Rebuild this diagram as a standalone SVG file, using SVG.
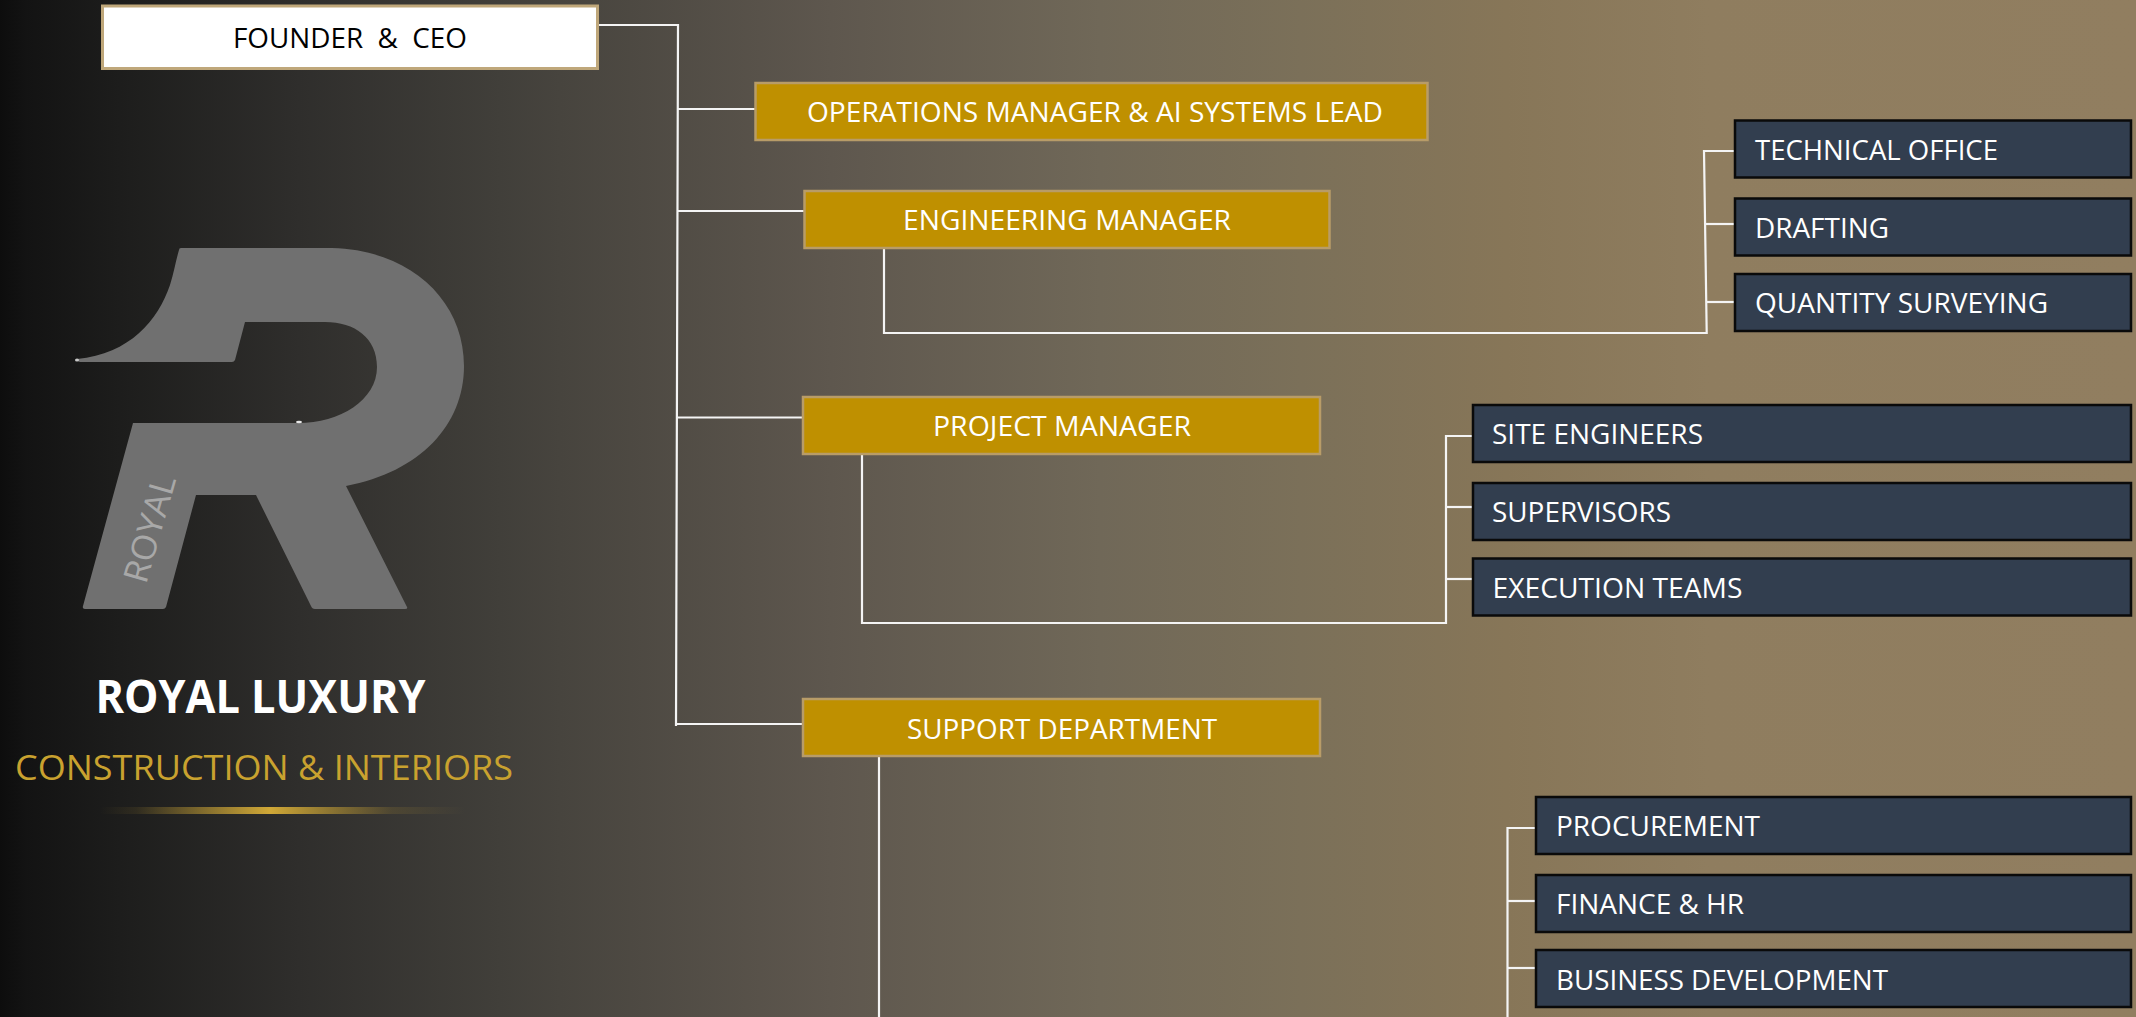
<svg xmlns="http://www.w3.org/2000/svg" width="2136" height="1017" viewBox="0 0 2136 1017">
<style>
text{font-family:"Open Sans","Noto Sans","Liberation Sans",sans-serif;white-space:pre}
.t{font-size:27px;fill:#fff}
.gold rect{fill:#bf9000;stroke:#b89c68;stroke-width:2.5}
.navy rect{fill:#323e4f;stroke:#0a0a0a;stroke-width:2.5}
#connectors path{fill:none;stroke:#f4f4f4;stroke-width:2.2}
</style>
<defs>
<linearGradient id="bg" x1="0" y1="0" x2="1" y2="0">
<stop offset="0" stop-color="#0d0d0d"/><stop offset="0.012" stop-color="#131313"/><stop offset="0.056" stop-color="#1d1d1c"/><stop offset="0.14" stop-color="#2f2e2c"/><stop offset="0.234" stop-color="#413f3a"/><stop offset="0.262" stop-color="#47443e"/><stop offset="0.389" stop-color="#5e574e"/><stop offset="0.515" stop-color="#706858"/><stop offset="0.609" stop-color="#7b7059"/><stop offset="0.705" stop-color="#877658"/><stop offset="0.8" stop-color="#8f7d5f"/><stop offset="1" stop-color="#917e60"/>
</linearGradient>
<linearGradient id="bar" gradientUnits="userSpaceOnUse" x1="100" y1="0" x2="465" y2="0">
<stop offset="0" stop-color="#c9a233" stop-opacity="0"/><stop offset="0.1" stop-color="#c9a233" stop-opacity=".1"/><stop offset="0.466" stop-color="#d0a837"/><stop offset="0.8" stop-color="#c9a233" stop-opacity=".15"/><stop offset="1" stop-color="#c9a233" stop-opacity="0"/>
</linearGradient>
</defs>
<rect id="background" width="2136" height="1017" fill="url(#bg)"/>
<g id="logo">
<path fill="#707070" d="M181 248 L332 248 C410 250 464 300 464 366 C464 425 420 472 346 486 L407 607 Q408 609 405 609 L315 609 Q312 609 311 606 L256 495 L196 495 L166 607 Q165 609 163 609 L85 609 Q82 609 83 606 L133 423 L298 423 C340 423 377 400 377 367 C377 338 355 322 325 322 L245 322 L235 360 Q234 362 232 362 L80 362 Q76 361 77 359 C130 354 158 320 170 285 C174 272 176 260 179 250 Q179 248 181 248 Z"/>
<ellipse cx="77" cy="360" rx="2" ry="1.5" fill="#c8c8c8"/>
<ellipse cx="299" cy="422" rx="3" ry="1.2" fill="#e8e8e8"/>
<text transform="translate(146 585) rotate(-74)" font-size="34" fill="#a8a8a8" textLength="110" lengthAdjust="spacingAndGlyphs">ROYAL</text>
</g>
<g id="brand">
<text x="95.500" y="713" font-size="46" font-weight="700" fill="#fff" textLength="330" lengthAdjust="spacingAndGlyphs">ROYAL LUXURY</text>
<text x="15" y="780" font-size="35" fill="#c9a22f" textLength="498" lengthAdjust="spacingAndGlyphs">CONSTRUCTION &amp; INTERIORS</text>
<rect x="100" y="807" width="365" height="7" fill="url(#bar)"/>
</g>
<g id="connectors">
<path d="M598 25H678L676 726"/>
<path d="M677.500 109H755"/>
<path d="M677 211H804"/>
<path d="M677 417.500H802"/>
<path d="M676 724H802"/>
<path d="M884 248V333H1706.700L1704 151H1734"/>
<path d="M1705 224H1736"/>
<path d="M1706 302H1734"/>
<path d="M862 454V623H1446V436H1472"/>
<path d="M1446 507H1472"/>
<path d="M1446 579H1472"/>
<path d="M879 757V1017"/>
<path d="M1535 828H1507.500V1017"/>
<path d="M1507.500 901H1535"/>
<path d="M1507.500 968H1535"/>
</g>
<g id="founder"><rect x="102.500" y="6" width="495" height="62.500" fill="#fff" stroke="#bfa77a" stroke-width="3"/><text x="233" y="48" font-size="27" fill="#000" textLength="234" lengthAdjust="spacingAndGlyphs">FOUNDER  &amp;  CEO</text></g>
<g id="operations" class="gold"><rect x="755.500" y="83" width="672" height="57"/><text class="t" x="807" y="122" textLength="576" lengthAdjust="spacingAndGlyphs">OPERATIONS MANAGER &amp; AI SYSTEMS LEAD</text></g>
<g id="engineering" class="gold"><rect x="804.500" y="191" width="525" height="57"/><text class="t" x="903" y="230" textLength="328" lengthAdjust="spacingAndGlyphs">ENGINEERING MANAGER</text></g>
<g id="project" class="gold"><rect x="803" y="397" width="517" height="57"/><text class="t" x="933" y="436" textLength="258" lengthAdjust="spacingAndGlyphs">PROJECT MANAGER</text></g>
<g id="support" class="gold"><rect x="803" y="699" width="517" height="57"/><text class="t" x="907" y="739" textLength="310" lengthAdjust="spacingAndGlyphs">SUPPORT DEPARTMENT</text></g>
<g id="technical" class="navy"><rect x="1735" y="120.500" width="396" height="57"/><text class="t" x="1755" y="160" textLength="243" lengthAdjust="spacingAndGlyphs">TECHNICAL OFFICE</text></g>
<g id="drafting" class="navy"><rect x="1735" y="198.500" width="396" height="57"/><text class="t" x="1755" y="238" textLength="134" lengthAdjust="spacingAndGlyphs">DRAFTING</text></g>
<g id="quantity" class="navy"><rect x="1735" y="274" width="396" height="57"/><text class="t" x="1755" y="313" textLength="293" lengthAdjust="spacingAndGlyphs">QUANTITY SURVEYING</text></g>
<g id="site" class="navy"><rect x="1473" y="405" width="658" height="57"/><text class="t" x="1492" y="444" textLength="211" lengthAdjust="spacingAndGlyphs">SITE ENGINEERS</text></g>
<g id="supervisors" class="navy"><rect x="1473" y="483" width="658" height="57"/><text class="t" x="1492" y="522" textLength="179" lengthAdjust="spacingAndGlyphs">SUPERVISORS</text></g>
<g id="execution" class="navy"><rect x="1473" y="558.500" width="658" height="57"/><text class="t" x="1492.500" y="598" textLength="250" lengthAdjust="spacingAndGlyphs">EXECUTION TEAMS</text></g>
<g id="procurement" class="navy"><rect x="1536" y="797" width="595" height="57"/><text class="t" x="1556" y="836" textLength="204" lengthAdjust="spacingAndGlyphs">PROCUREMENT</text></g>
<g id="finance" class="navy"><rect x="1536" y="875" width="595" height="57"/><text class="t" x="1556" y="914" textLength="188" lengthAdjust="spacingAndGlyphs">FINANCE &amp; HR</text></g>
<g id="business" class="navy"><rect x="1536" y="950" width="595" height="57"/><text class="t" x="1556" y="990" textLength="332" lengthAdjust="spacingAndGlyphs">BUSINESS DEVELOPMENT</text></g>
</svg>
